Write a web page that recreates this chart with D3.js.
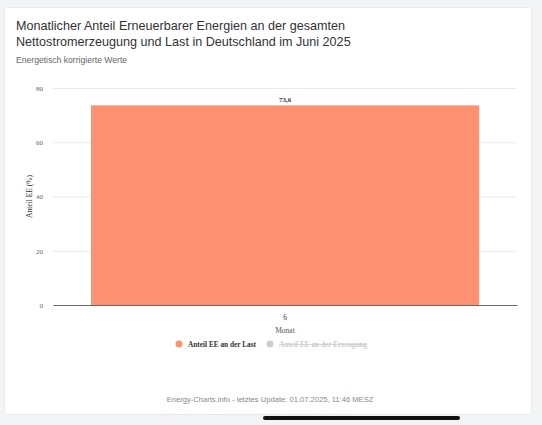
<!DOCTYPE html>
<html>
<head>
<meta charset="utf-8">
<script src="https://cdn.jsdelivr.net/npm/d3@7"></script>
<style>
  html, body { margin: 0; padding: 0; background: #f2f4f6; }
  svg { display: block; }
</style>
</head>
<body>
<script>
// data
var months = ["6"];
var anteilLast = [73.6];
var anteilErzeugung = [null]; // series hidden in legend
var yTicks = [0, 20, 40, 60, 80];
var legendNames = ["Anteil EE an der Last", "Anteil EE an der Erzeugung"];

var W = 542, H = 425;
var margin = {left: 53, right: 25, top: 88, bottom: 120};
var plotW = W - margin.left - margin.right,
    plotH = H - margin.top - margin.bottom;

var svg = d3.select("body").append("svg")
    .attr("width", W)
    .attr("height", H);

// card
svg.append("rect")
    .attr("x", 4.5).attr("y", 7.5)
    .attr("width", 527).attr("height", 407)
    .attr("rx", 3)
    .attr("fill", "#fff")
    .attr("stroke", "#e6eaee");

var titleFont = "'Liberation Sans', Arial, sans-serif";
svg.append("text")
    .attr("x", 16).attr("y", 30)
    .attr("font-family", titleFont)
    .attr("font-size", "12.6px")
    .attr("fill", "#333")
    .text("Monatlicher Anteil Erneuerbarer Energien an der gesamten");
svg.append("text")
    .attr("x", 16).attr("y", 46)
    .attr("font-family", titleFont)
    .attr("font-size", "12.6px")
    .attr("fill", "#333")
    .text("Nettostromerzeugung und Last in Deutschland im Juni 2025");
svg.append("text")
    .attr("x", 16).attr("y", 63)
    .attr("font-family", titleFont)
    .attr("font-size", "8.6px")
    .attr("fill", "#666")
    .text("Energetisch korrigierte Werte");

var x = d3.scaleBand()
    .domain(months)
    .range([0, plotW])
    .paddingInner(0.1)
    .paddingOuter(0.088);
var y = d3.scaleLinear()
    .domain([0, 80])
    .range([plotH, 0]);

var g = svg.append("g")
    .attr("transform", "translate(" + margin.left + "," + margin.top + ")");

// grid
g.selectAll(".grid")
    .data(yTicks)
    .enter().append("line")
    .attr("x1", 0).attr("x2", plotW)
    .attr("y1", function(d) { return y(d) + 0.5; })
    .attr("y2", function(d) { return y(d) + 0.5; })
    .attr("stroke", "#ebebeb");

var yAxis = g.append("g")
    .call(d3.axisLeft(y).tickValues(yTicks).tickSize(0).tickPadding(10));
yAxis.select(".domain").remove();
yAxis.selectAll("text")
    .attr("font-family", "'Liberation Serif', 'DejaVu Serif', serif")
    .attr("font-size", "7px")
    .attr("fill", "#666");

// bars
g.selectAll(".bar")
    .data(anteilLast)
    .enter().append("rect")
    .attr("class", "bar")
    .attr("x", function(d, i) { return x(months[i]); })
    .attr("width", x.bandwidth())
    .attr("y", function(d) { return y(d); })
    .attr("height", function(d) { return plotH - y(d); })
    .attr("fill", "#fe9172");

g.selectAll(".lbl")
    .data(anteilLast)
    .enter().append("text")
    .attr("x", function(d, i) { return x(months[i]) + x.bandwidth() / 2; })
    .attr("y", function(d) { return y(d) - 3; })
    .attr("text-anchor", "middle")
    .attr("font-family", "'Liberation Serif', 'DejaVu Serif', serif")
    .attr("font-size", "7px")
    .attr("font-weight", "bold")
    .attr("fill", "#333")
    .text(function(d) { return String(d).replace(".", ","); });

// x axis
var xAxis = g.append("g")
    .attr("transform", "translate(0," + plotH + ")")
    .call(d3.axisBottom(x).tickSize(0).tickPadding(10));
xAxis.select(".domain").attr("stroke", "#666");
xAxis.selectAll("text")
    .attr("font-family", "'Liberation Serif', 'DejaVu Serif', serif")
    .attr("font-size", "7.5px")
    .attr("fill", "#333");

g.append("text")
    .attr("x", plotW / 2)
    .attr("y", plotH + 28)
    .attr("text-anchor", "middle")
    .attr("font-family", "'Liberation Serif', 'DejaVu Serif', serif")
    .attr("font-size", "7.5px")
    .attr("fill", "#555")
    .text("Monat");

g.append("text")
    .attr("transform", "rotate(-90)")
    .attr("x", -plotH / 2)
    .attr("y", -21)
    .attr("text-anchor", "middle")
    .attr("font-family", "'Liberation Serif', 'DejaVu Serif', serif")
    .attr("font-size", "7.5px")
    .attr("fill", "#333")
    .text("Anteil EE (%)");

// legend
var legendX = [179, 270];
var legend = svg.selectAll(".leg")
    .data(legendNames)
    .enter().append("g")
    .attr("transform", function(d, i) { return "translate(" + legendX[i] + ",344)"; });
legend.append("circle")
    .attr("r", 3.5)
    .attr("fill", function(d, i) { return i === 0 ? "#fe9172" : "#ccc"; });
legend.append("text")
    .attr("x", 9)
    .attr("y", 2.7)
    .attr("font-family", "'Liberation Serif', 'DejaVu Serif', serif")
    .attr("font-size", "7.3px")
    .attr("font-weight", "bold")
    .attr("fill", function(d, i) { return i === 0 ? "#333" : "#ccc"; })
    .attr("text-decoration", function(d, i) { return i === 0 ? null : "line-through"; })
    .text(function(d) { return d; });

// footer
svg.append("text")
    .attr("x", 270)
    .attr("y", 402)
    .attr("text-anchor", "middle")
    .attr("font-family", titleFont)
    .attr("font-size", "7.6px")
    .attr("fill", "#888")
    .text("Energy-Charts.info - letztes Update: 01.07.2025, 11:46 MESZ");

// home indicator
svg.append("rect")
    .attr("x", 263).attr("y", 416)
    .attr("width", 197).attr("height", 4)
    .attr("rx", 2)
    .attr("fill", "#111");
</script>
</body>
</html>
